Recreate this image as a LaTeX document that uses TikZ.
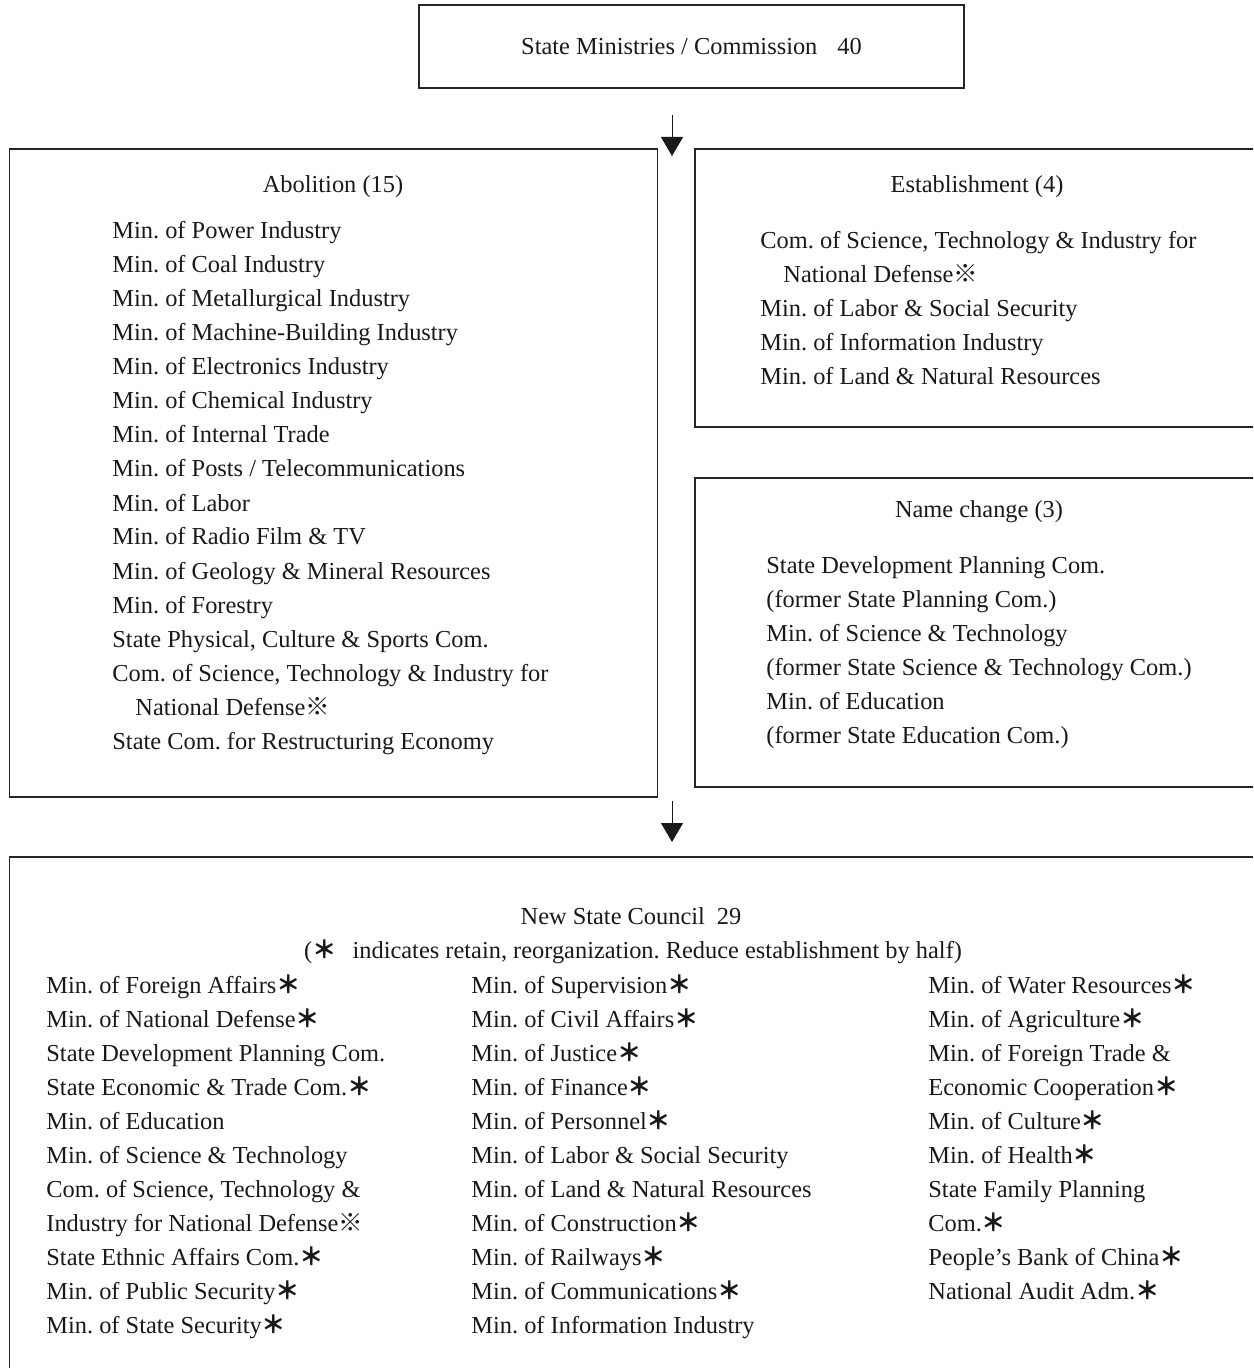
\documentclass[tikz,border=0pt]{standalone}
\usepackage{fontspec}
\setmainfont{Liberation Serif}
\newfontfamily\cjk{Noto Sans CJK JP}
\usetikzlibrary{arrows.meta}
\frenchspacing
\newcommand\hast{{\cjk\bfseries ＊}}
\newcommand\kome{{\cjk ※}}
\begin{document}
\begin{tikzpicture}[x=0.5pt,y=-0.5pt,
  box/.style={draw=black!85, line width=0.75pt, inner sep=0pt},
  txt/.style={inner sep=0pt, font=\fontsize{12.2}{14}\selectfont\frenchspacing, text=black!90},
  item/.style={txt, anchor=base west},
  ttl/.style={txt, anchor=base},
  arr/.style={-{Triangle[width=11pt,length=9.5pt]}, line width=0.5pt, draw=black!90, fill=black!90}]
\useasboundingbox (0,0) rectangle (1253,1368);
\clip (0,0) rectangle (1253,1368);

% boxes
\node[box, txt, draw=black!85, minimum width=272.5pt, minimum height=41.5pt] (top) at (691.5,46.5) {State Ministries / Commission\hspace{10pt}40};
\node[box, minimum width=324pt, minimum height=324pt] (abol) at (333.5,473) {};
\node[box, minimum width=292.5pt, minimum height=139pt] (est) at (987.5,288) {};
\node[box, minimum width=292.5pt, minimum height=154.5pt] (name) at (987.5,632.5) {};
\node[box, minimum width=635.25pt, minimum height=271.5pt] (council) at (644.75,1128.5) {};

% arrows
\coordinate (a1s) at (672,115);
\coordinate (a1e) at (672,156);
\coordinate (a2s) at (672,801);
\coordinate (a2e) at (672,842);
\draw[arr] (a1s) -- (a1e);
\draw[arr] (a2s) -- (a2e);

% Abolition
\node[ttl] (abt) at (333,193) {Abolition (15)};
\node[item] (ab1) at (112,239) {Min. of Power Industry};
\node[item] (ab2) at (112,273) {Min. of Coal Industry};
\node[item] (ab3) at (112,307) {Min. of Metallurgical Industry};
\node[item] (ab4) at (112,341) {Min. of Machine-Building Industry};
\node[item] (ab5) at (112,375) {Min. of Electronics Industry};
\node[item] (ab6) at (112,409) {Min. of Chemical Industry};
\node[item] (ab7) at (112,443) {Min. of Internal Trade};
\node[item] (ab8) at (112,477) {Min. of Posts / Telecommunications};
\node[item] (ab9) at (112,511) {Min. of Labor};
\node[item] (ab10) at (112,545) {Min. of Radio Film \& TV};
\node[item] (ab11) at (112,579) {Min. of Geology \& Mineral Resources};
\node[item] (ab12) at (112,613) {Min. of Forestry};
\node[item] (ab13) at (112,647) {State Physical, Culture \& Sports Com.};
\node[item] (ab14) at (112,681) {Com. of Science, Technology \& Industry for};
\node[item] (ab15) at (135,715) {National Defense\kome};
\node[item] (ab16) at (112,749) {State Com. for Restructuring Economy};

% Establishment
\node[ttl] (est0) at (977,193) {Establishment (4)};
\node[item] (es1) at (760,249) {Com. of Science, Technology \& Industry for};
\node[item] (es2) at (783,283) {National Defense\kome};
\node[item] (es3) at (760,317) {Min. of Labor \& Social Security};
\node[item] (es4) at (760,351) {Min. of Information Industry};
\node[item] (es5) at (760,385) {Min. of Land \& Natural Resources};

% Name change
\node[ttl] (nc0) at (979,517) {Name change (3)};
\node[item] (nc1) at (766,573) {State Development Planning Com.};
\node[item] (nc2) at (766,607) {(former State Planning Com.)};
\node[item] (nc3) at (766,641) {Min. of Science \& Technology};
\node[item] (nc4) at (766,675) {(former State Science \& Technology Com.)};
\node[item] (nc5) at (766,709) {Min. of Education};
\node[item] (nc6) at (766,743) {(former State Education Com.)};

% New State Council
\node[ttl] (nsc) at (631,924) {New State Council\hspace{6pt}29};
\node[ttl] (nsn) at (633,958) {({\cjk\bfseries ＊}\hspace{8pt}indicates retain, reorganization. Reduce establishment by half)};

\node[item] (c11) at (46,993) {Min. of Foreign Affairs\hast};
\node[item] (c12) at (46,1027) {Min. of National Defense\hast};
\node[item] (c13) at (46,1061) {State Development Planning Com.};
\node[item] (c14) at (46,1095) {State Economic \& Trade Com.\hast};
\node[item] (c15) at (46,1129) {Min. of Education};
\node[item] (c16) at (46,1163) {Min. of Science \& Technology};
\node[item] (c17) at (46,1197) {Com. of Science, Technology \&};
\node[item] (c18) at (46,1231) {Industry for National Defense\kome};
\node[item] (c19) at (46,1265) {State Ethnic Affairs Com.\hast};
\node[item] (c110) at (46,1299) {Min. of Public Security\hast};
\node[item] (c111) at (46,1333) {Min. of State Security\hast};

\node[item] (c21) at (471,993) {Min. of Supervision\hast};
\node[item] (c22) at (471,1027) {Min. of Civil Affairs\hast};
\node[item] (c23) at (471,1061) {Min. of Justice\hast};
\node[item] (c24) at (471,1095) {Min. of Finance\hast};
\node[item] (c25) at (471,1129) {Min. of Personnel\hast};
\node[item] (c26) at (471,1163) {Min. of Labor \& Social Security};
\node[item] (c27) at (471,1197) {Min. of Land \& Natural Resources};
\node[item] (c28) at (471,1231) {Min. of Construction\hast};
\node[item] (c29) at (471,1265) {Min. of Railways\hast};
\node[item] (c210) at (471,1299) {Min. of Communications\hast};
\node[item] (c211) at (471,1333) {Min. of Information Industry};

\node[item] (c31) at (928,993) {Min. of Water Resources\hast};
\node[item] (c32) at (928,1027) {Min. of Agriculture\hast};
\node[item] (c33) at (928,1061) {Min. of Foreign Trade \&};
\node[item] (c34) at (928,1095) {Economic Cooperation\hast};
\node[item] (c35) at (928,1129) {Min. of Culture\hast};
\node[item] (c36) at (928,1163) {Min. of Health\hast};
\node[item] (c37) at (928,1197) {State Family Planning};
\node[item] (c38) at (928,1231) {Com.\hast};
\node[item] (c39) at (928,1265) {People’s Bank of China\hast};
\node[item] (c310) at (928,1299) {National Audit Adm.\hast};
\end{tikzpicture}
\end{document}
